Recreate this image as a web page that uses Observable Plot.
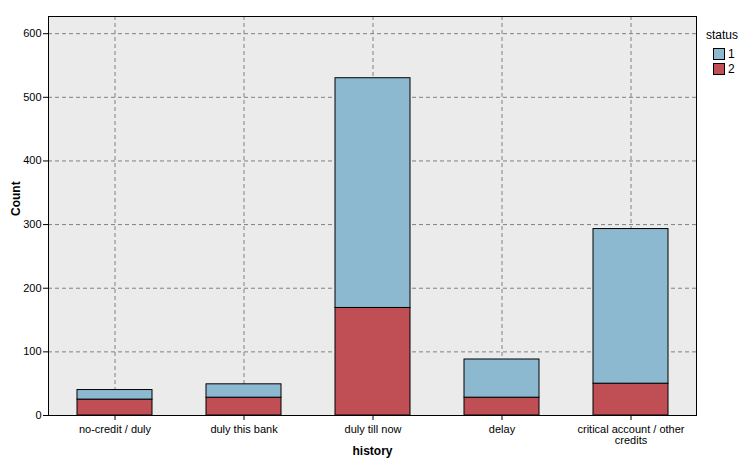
<!DOCTYPE html>
<html><head><meta charset="utf-8">
<script src="https://cdn.jsdelivr.net/npm/d3@7"></script>
<script src="https://cdn.jsdelivr.net/npm/@observablehq/plot@0.6"></script>
<style>
body{margin:0;background:#fff;font-family:"Liberation Sans",Arial,sans-serif;}
#wrap{position:relative;width:753px;height:470px;}
#legend{position:absolute;left:706px;top:28px;font-size:12px;color:#000;}
#legend .row{display:flex;align-items:center;height:15px;margin-left:7px;}
#legend .sw{width:10px;height:10px;border:1px solid #000;margin-right:3px;}
</style></head><body><div id="wrap"><div id="legend"></div></div>
<script>
const categories = ["no-credit / duly","duly this bank","duly till now","delay","critical account / other credits"];
const status1 = [15, 21, 361, 60, 243];
const status2 = [25, 28, 169, 28, 50];
const statuses = ["1","2"];
const colors = ["#8DB9D0","#C04F55"];
const yTicks = [0,100,200,300,400,500,600];

const data = [];
categories.forEach((c,i)=>{
  data.push({history:c, status:"2", count:status2[i]});
  data.push({history:c, status:"1", count:status1[i]});
});

const chart = Plot.plot({
  width:753, height:470,
  marginLeft:48, marginRight:57, marginTop:16, marginBottom:55,
  style:{fontFamily:"'Liberation Sans', Arial, sans-serif", fontSize:"11px", color:"#000", background:"#fff"},
  x:{domain:categories, paddingInner:0.42, paddingOuter:0.21, label:null},
  y:{domain:[0,627], label:null},
  color:{domain:statuses, range:colors},
  marks:[
    Plot.frame({fill:"#EBEBEB"}),
    Plot.gridY(yTicks,{stroke:"#808080", strokeOpacity:1, strokeDasharray:"4,3"}),
    Plot.gridX(categories,{x:d=>d, stroke:"#808080", strokeOpacity:1, strokeDasharray:"4,3"}),
    Plot.barY(data, Plot.stackY({x:"history", y:"count", fill:"status", stroke:"#000", strokeWidth:1, order:["2","1"]})),
    Plot.axisY({ticks:yTicks, tickSize:5, tickPadding:2, label:null, fontSize:11}),
    Plot.axisX({tickSize:5, tickPadding:4, label:null, fontSize:11, lineWidth:12, lineHeight:1.05}),
    Plot.frame({stroke:"#000", strokeWidth:1}),
    Plot.text(["Count"],{frameAnchor:"left", dx:-32, rotate:-90, fontWeight:"bold", fontSize:12}),
    Plot.text(["history"],{frameAnchor:"bottom", dy:39, fontWeight:"bold", fontSize:12})
  ]
});
document.getElementById("wrap").prepend(chart);

const leg = document.getElementById("legend");
leg.innerHTML = '<div style="margin-bottom:4px">status</div>' +
  statuses.map((s,i)=>`<div class="row"><div class="sw" style="background:${colors[i]}"></div>${s}</div>`).join("");
</script></body></html>
